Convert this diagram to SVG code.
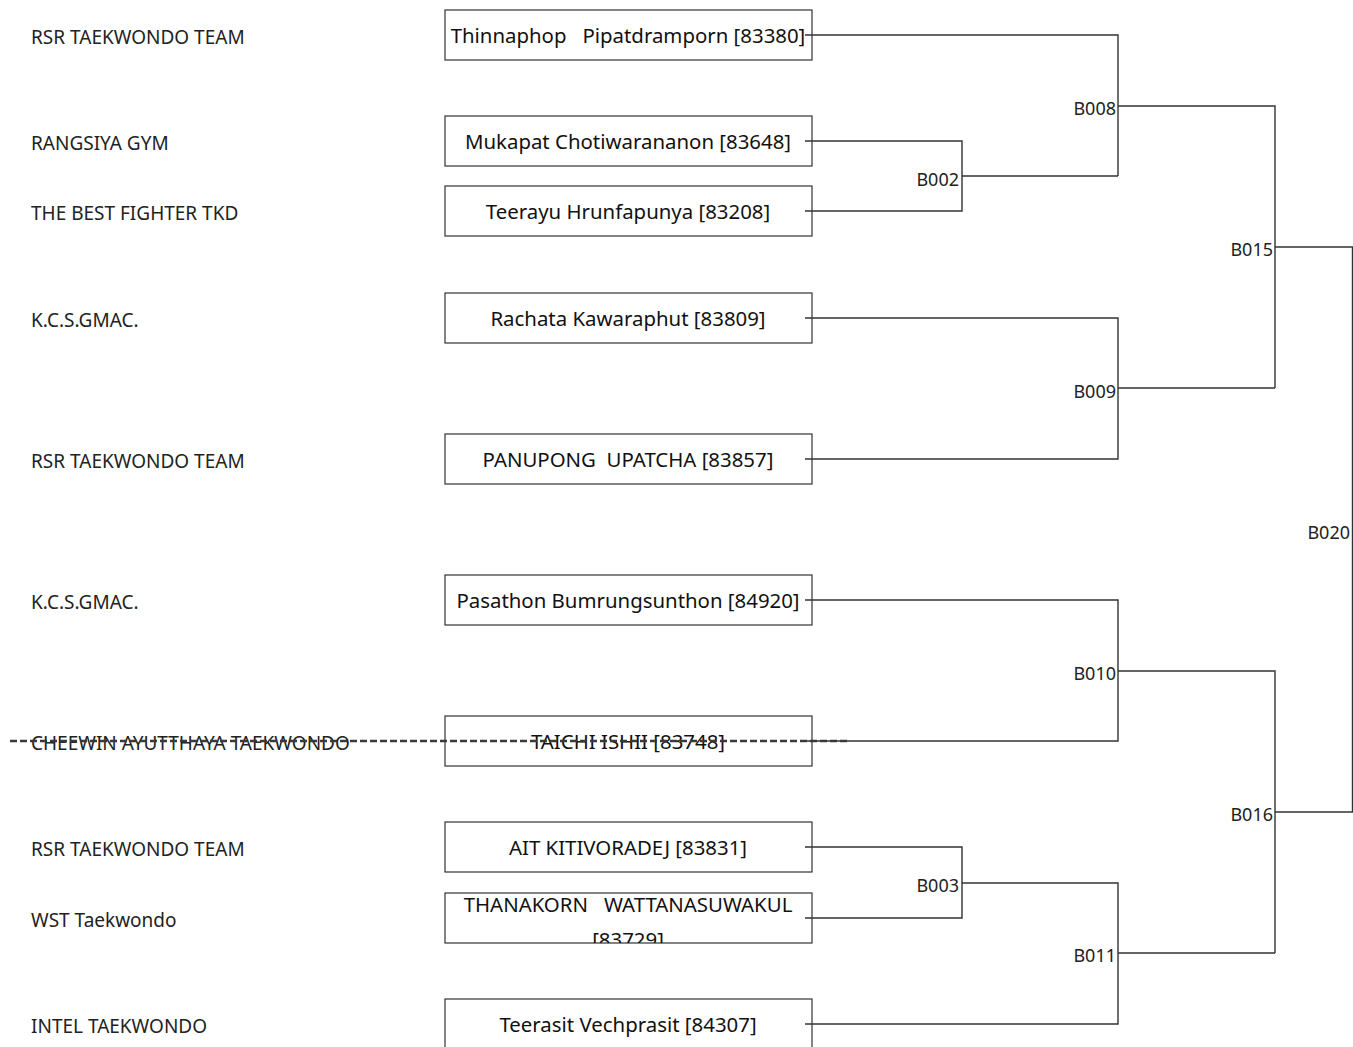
<svg xmlns="http://www.w3.org/2000/svg" width="1353" height="1047" viewBox="0 0 1353 1047">
<style>
.bg{fill:#fff}
.box{fill:#fff;stroke:#333;stroke-width:1.2}
.name{font-family:"Noto Sans","Open Sans",sans-serif;font-size:20.4px;fill:#111;text-anchor:middle}
.team{font-family:"Noto Sans","Open Sans",sans-serif;font-size:19px;fill:#222}
.lbl{font-family:"Noto Sans","Open Sans",sans-serif;font-size:18px;fill:#222;text-anchor:end}
.con{fill:none;stroke:#333;stroke-width:1.4}
.strike{stroke:#3a3a3a;stroke-width:2.5;stroke-dasharray:7,3}
</style>
<defs>
<clipPath id="c9"><rect x="445" y="893" width="367" height="50"/></clipPath>
</defs>
<rect class="bg" width="1353" height="1047"/>
<g id="teams">
<text class="team" x="31" y="44">RSR TAEKWONDO TEAM</text>
<text class="team" x="31" y="150">RANGSIYA GYM</text>
<text class="team" x="31" y="220">THE BEST FIGHTER TKD</text>
<text class="team" x="31" y="327">K.C.S.GMAC.</text>
<text class="team" x="31" y="468">RSR TAEKWONDO TEAM</text>
<text class="team" x="31" y="609">K.C.S.GMAC.</text>
<text class="team" x="31" y="750">CHEEWIN AYUTTHAYA TAEKWONDO</text>
<text class="team" x="31" y="856">RSR TAEKWONDO TEAM</text>
<text class="team" x="31" y="927">WST Taekwondo</text>
<text class="team" x="31" y="1033">INTEL TAEKWONDO</text>
</g>
<g id="n1"><rect class="box" x="445" y="10" width="367" height="50"/><text class="name" x="628" y="43" xml:space="preserve">Thinnaphop   Pipatdramporn [83380]</text></g>
<g id="n2"><rect class="box" x="445" y="116" width="367" height="50"/><text class="name" x="628" y="149">Mukapat Chotiwarananon [83648]</text></g>
<g id="n3"><rect class="box" x="445" y="186" width="367" height="50"/><text class="name" x="628" y="219">Teerayu Hrunfapunya [83208]</text></g>
<g id="n4"><rect class="box" x="445" y="293" width="367" height="50"/><text class="name" x="628" y="326">Rachata Kawaraphut [83809]</text></g>
<g id="n5"><rect class="box" x="445" y="434" width="367" height="50"/><text class="name" x="628" y="467" xml:space="preserve">PANUPONG  UPATCHA [83857]</text></g>
<g id="n6"><rect class="box" x="445" y="575" width="367" height="50"/><text class="name" x="628" y="608">Pasathon Bumrungsunthon [84920]</text></g>
<g id="n7"><rect class="box" x="445" y="716" width="367" height="50"/><text class="name" x="628" y="749">TAICHI ISHII [83748]</text></g>
<g id="n8"><rect class="box" x="445" y="822" width="367" height="50"/><text class="name" x="628" y="855">AIT KITIVORADEJ [83831]</text></g>
<g id="n9"><rect class="box" x="445" y="893" width="367" height="50"/><g clip-path="url(#c9)"><text class="name" x="628" y="912" xml:space="preserve">THANAKORN   WATTANASUWAKUL</text><text class="name" x="628" y="947">[83729]</text></g></g>
<g id="n10"><rect class="box" x="445" y="999" width="367" height="50"/><text class="name" x="628" y="1032">Teerasit Vechprasit [84307]</text></g>
<g id="connectors">
<path class="con" d="M805 35H1118V176M805 141H962V211H805M962 176H1118"/>
<path class="con" d="M1118 106H1275V388M805 318H1118V459H805M1118 388H1275"/>
<path class="con" d="M1275 247H1352.5V812H1275"/>
<path class="con" d="M805 600H1118V741H805M1118 671H1275V953"/>
<path class="con" d="M805 847H962V918H805M962 883H1118V1024H805M1118 953H1275"/>
</g>
<g id="labels">
<text class="lbl" x="1116" y="115">B008</text>
<text class="lbl" x="959" y="186">B002</text>
<text class="lbl" x="1273" y="256">B015</text>
<text class="lbl" x="1116" y="398">B009</text>
<text class="lbl" x="1350" y="539">B020</text>
<text class="lbl" x="1116" y="680">B010</text>
<text class="lbl" x="1273" y="821">B016</text>
<text class="lbl" x="959" y="892">B003</text>
<text class="lbl" x="1116" y="962">B011</text>
</g>
<line id="strike" class="strike" x1="10" y1="741" x2="850" y2="741"/>
</svg>
